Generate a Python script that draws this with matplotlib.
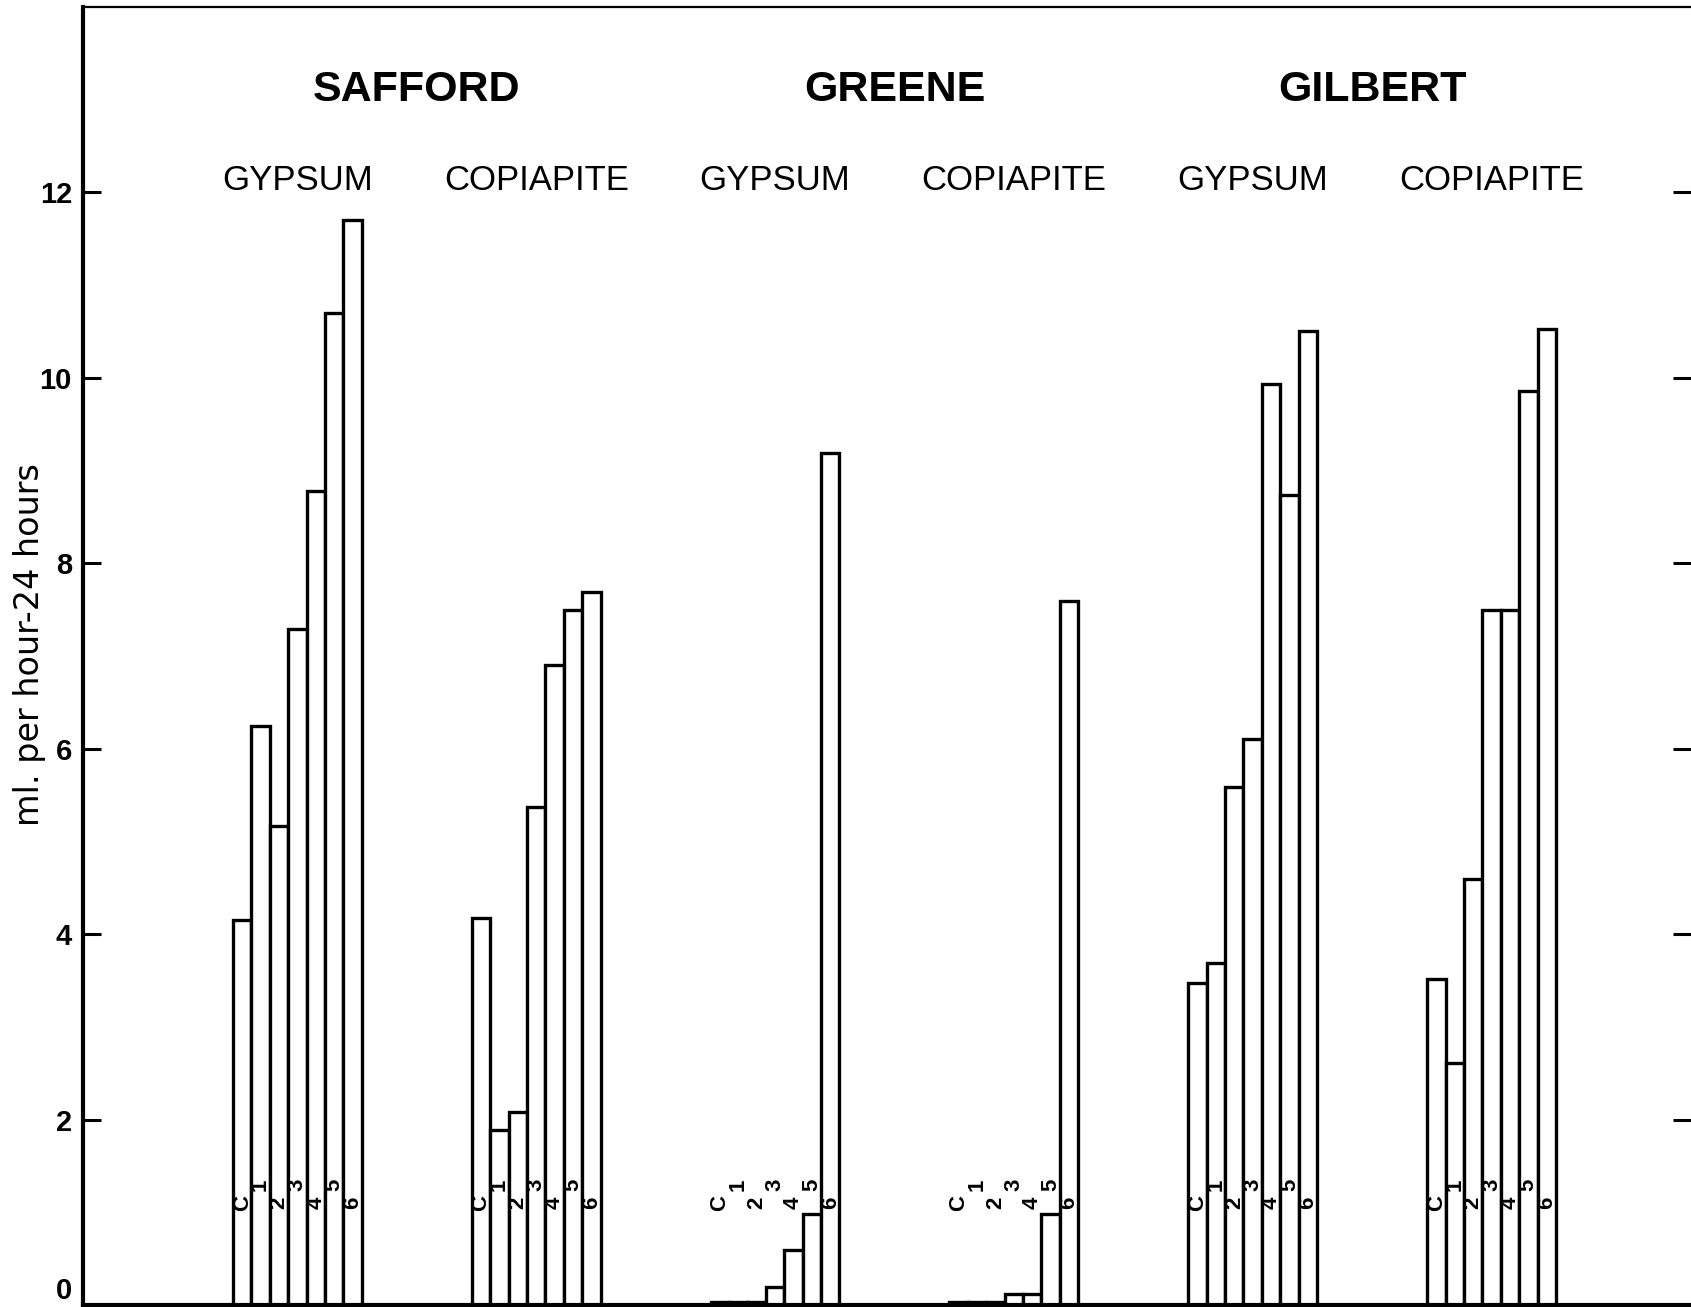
import matplotlib
matplotlib.use("Agg")
import matplotlib.pyplot as plt
import numpy as np

plt.rcParams["font.family"] = ["Liberation Sans", "DejaVu Sans"]

# rates in ml. per hour over 24 hours, bars C, 1..6 for each sample
sites = ["SAFFORD", "GREENE", "GILBERT"]
minerals = ["GYPSUM", "COPIAPITE"]
bar_labels = ["C", "1", "2", "3", "4", "5", "6"]

safford_gypsum = [4.15, 6.24, 5.16, 7.29, 8.78, 10.70, 11.70]
safford_copiapite = [4.17, 1.89, 2.08, 5.37, 6.90, 7.49, 7.69]
greene_gypsum = [0.03, 0.03, 0.03, 0.19, 0.59, 0.98, 9.19]
greene_copiapite = [0.03, 0.03, 0.03, 0.12, 0.12, 0.98, 7.59]
gilbert_gypsum = [3.47, 3.69, 5.59, 6.10, 9.93, 8.73, 10.50]
gilbert_copiapite = [3.51, 2.61, 4.59, 7.49, 7.49, 9.85, 10.52]

series = [safford_gypsum, safford_copiapite,
          greene_gypsum, greene_copiapite,
          gilbert_gypsum, gilbert_copiapite]

W, H = 1691, 1307
fig = plt.figure(figsize=(W / 100, H / 100), dpi=100)
left = 83 / W
ax = fig.add_axes([left, 2 / H, 1 - left, (1305 - 6.6) / H])

starts = 8.15 + 12.98 * np.arange(len(series))
for g, (start, vals) in enumerate(zip(starts, series)):
    xs = start + np.arange(len(vals))
    ax.bar(xs, vals, width=1.0, align="edge", facecolor="white",
           edgecolor="black", linewidth=2.4, zorder=2)
    for i, (x, lab) in enumerate(zip(xs, bar_labels)):
        y = 1.30 if i % 2 else 1.10
        ax.text(x + 0.5, y, lab, rotation=90, ha="center", va="center",
                fontsize=16, fontweight="bold", zorder=3)
    ax.text(start + 3.5, 12.12, minerals[g % 2],
            ha="center", va="center", fontsize=25)

for k, name in enumerate(sites):
    cx = (starts[2 * k] + starts[2 * k + 1] + 7) / 2
    ax.text(cx, 13.10, name, ha="center", va="center",
            fontsize=31, fontweight="bold")

ax.set_xlim(0, 1608 / 18.4)
ax.set_ylim(0, 14)
ax.set_xticks([])
ax.set_yticks(np.arange(0, 13, 2))
ax.tick_params(axis="y", which="both", direction="in", length=13, width=2.2,
               labelsize=21, pad=8, right=True)
for lab in ax.get_yticklabels():
    lab.set_fontweight("bold")
ax.get_yticklabels()[0].set_va("bottom")

ax.spines["right"].set_visible(False)
ax.spines["left"].set_linewidth(3)
ax.spines["bottom"].set_linewidth(3)
ax.spines["top"].set_linewidth(1.6)

fig.text(30 / W, 1 - 645 / H, "ml. per hour-24 hours", rotation=90,
         ha="center", va="center", fontsize=24, family="DejaVu Sans")

fig.savefig("out.png", dpi=100)
